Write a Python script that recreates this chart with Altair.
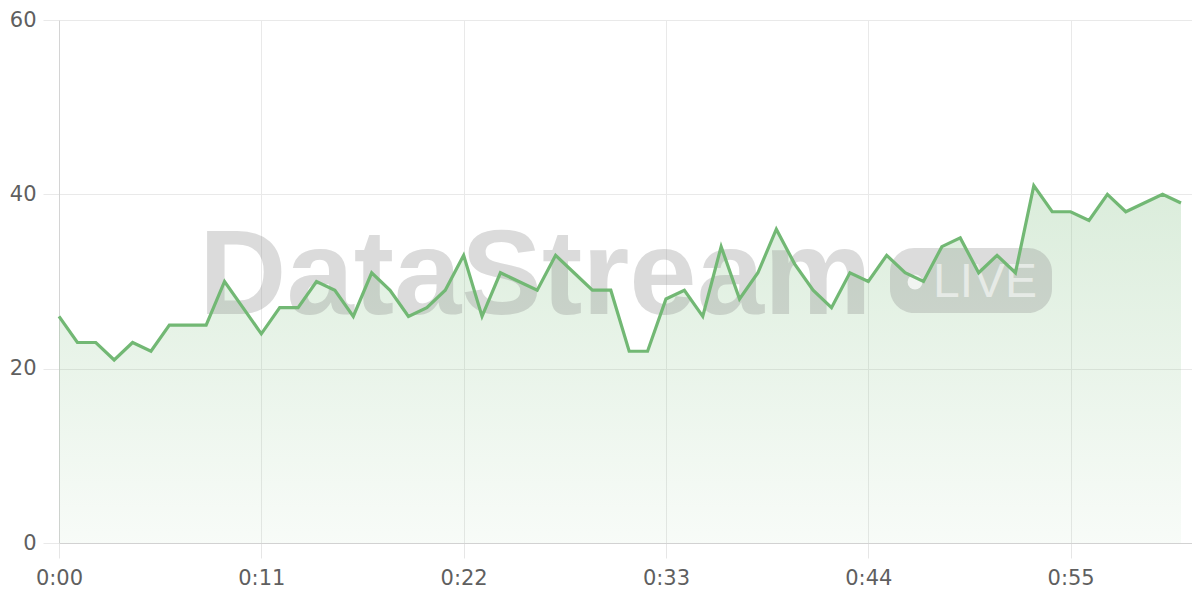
import altair as alt
import pandas as pd

seconds = list(range(62))
values = [26, 23, 23, 21, 23, 22, 25, 25, 25, 30,
          27, 24, 27, 27, 30, 29, 26, 31, 29, 26,
          27, 29, 33, 26, 31, 30, 29, 33, 31, 29,
          29, 22, 22, 28, 29, 26, 34, 28, 31, 36,
          32, 29, 27, 31, 30, 33, 31, 30, 34, 35,
          31, 33, 31, 41, 38, 38, 37, 40, 38, 39,
          40, 39]
x_ticks = [0, 11, 22, 33, 44, 55]
y_ticks = [0, 20, 40, 60]
watermark = "DataStream"
badge = "LIVE"

df = pd.DataFrame({"t": seconds, "v": values})

GREEN = "#72b874"
FONT = "DejaVu Sans"

x = alt.X("t:Q", scale=alt.Scale(domain=[0, 61.6], nice=False, zero=False),
          axis=alt.Axis(values=x_ticks, title=None, grid=True, gridColor="#e9e9e9",
                        domainColor="#d2d2d2", tickColor="#e6e6e6", tickSize=15,
                        labelPadding=9, labelFontSize=21, labelColor="#5f5f5f",
                        labelFont=FONT, labelFlush=False,
                        labelExpr="floor(datum.value/60) + ':' + (datum.value % 60 < 10 ? '0' : '') + (datum.value % 60)"))
y = alt.Y("v:Q", scale=alt.Scale(domain=[0, 60], nice=False),
          axis=alt.Axis(values=y_ticks, title=None, grid=True, gridColor="#e9e9e9",
                        domainColor="#d4d4d4", tickColor="#e9e9e9", tickSize=16,
                        labelPadding=7, labelFontSize=21, labelColor="#5f5f5f",
                        labelFont=FONT, labelFlush=False))

area = alt.Chart(df).mark_area(
    color=alt.Gradient(gradient="linear",
                       stops=[alt.GradientStop(color="rgba(114,184,116,0.05)", offset=0),
                              alt.GradientStop(color="rgba(114,184,116,0.26)", offset=1)],
                       x1=1, x2=1, y1=1, y2=0),
    interpolate="linear"
).encode(x=x, y=y)

wm = alt.Chart(pd.DataFrame({"s": [watermark]})).mark_text(
    font="Liberation Sans", fontWeight="bold", fontSize=121, color="#8a8a8a", opacity=0.3,
    align="left", baseline="alphabetic"
).encode(x=alt.value(140), y=alt.value(294), text="s:N")

badge_rect = alt.Chart(pd.DataFrame({"a": [0]})).mark_rect(
    color="#8a8a8a", opacity=0.3, cornerRadius=24
).encode(x=alt.value(831), x2=alt.value(993), y=alt.value(228), y2=alt.value(293))

dot = alt.Chart(pd.DataFrame({"a": [0]})).mark_point(
    filled=True, color="#ffffff", opacity=0.75, size=220, shape="circle"
).encode(x=alt.value(856), y=alt.value(262))

live = alt.Chart(pd.DataFrame({"s": [badge]})).mark_text(
    font="Liberation Sans", fontSize=48, color="#ffffff", opacity=0.55,
    align="left", baseline="alphabetic"
).encode(x=alt.value(874), y=alt.value(277), text="s:N")

line = alt.Chart(df).mark_line(color=GREEN, strokeWidth=3.2, strokeJoin="miter").encode(x="t:Q", y="v:Q")

chart = alt.layer(area, wm, badge_rect, dot, live, line).properties(
    width=1133, height=523,
    autosize=alt.AutoSizeParams(type="none"),
    padding={"left": 51, "top": 12, "right": 0, "bottom": 49}
).configure_view(stroke=None)

chart.save("out.html", embed_options={"renderer": "svg", "actions": False})
